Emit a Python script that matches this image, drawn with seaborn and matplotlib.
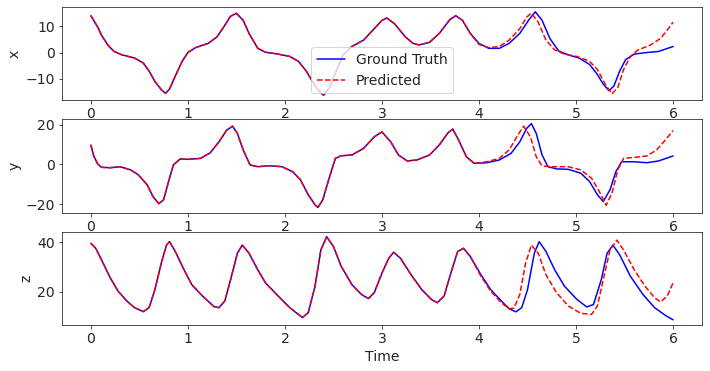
import numpy as np
import seaborn as sns
from matplotlib import pyplot as plt

# x component (ground truth)
x_true_t = [0.00, 0.07, 0.11, 0.18, 0.24, 0.32, 0.45, 0.54, 0.60, 0.66, 0.73, 0.77, 0.81,
            0.87, 0.94, 1.00, 1.08, 1.21, 1.30, 1.38, 1.44, 1.50, 1.57, 1.63, 1.72, 1.80,
            1.93, 2.05, 2.14, 2.22, 2.31, 2.37, 2.40, 2.46, 2.52, 2.60, 2.69, 2.81, 2.92,
            3.00, 3.05, 3.13, 3.24, 3.32, 3.38, 3.49, 3.59, 3.70, 3.76, 3.83, 3.91, 4.00,
            4.10, 4.21, 4.31, 4.42, 4.51, 4.58, 4.65, 4.73, 4.82, 4.92, 5.03, 5.14, 5.22,
            5.28, 5.34, 5.39, 5.45, 5.51, 5.60, 5.73, 5.85, 6.00]
x_true = [14.1, 9.75, 6.6, 2.6, 0.4, -0.9, -2.1, -4.0, -7.1, -11.1, -14.4, -15.6, -14.0,
          -9.0, -3.4, 0.0, 1.9, 3.5, 6.0, 10.4, 13.9, 15.0, 12.3, 7.3, 1.6, 0.1,
          -0.6, -1.5, -3.4, -7.1, -12.8, -15.6, -16.3, -13.4, -7.8, -0.9, 2.3, 4.75, 9.1,
          12.3, 13.2, 11.0, 6.0, 3.5, 2.9, 3.9, 7.3, 12.6, 14.1, 12.3, 7.3, 3.5,
          1.6, 1.6, 3.5, 7.3, 12.3, 15.6, 12.3, 5.4, 0.6, -0.9, -2.1, -4.6, -8.4,
          -12.1, -14.6, -12.8, -7.1, -2.75, -0.6, 0.0, 0.4, 2.3]
# x component (prediction, after it leaves the ground truth)
x_pred_tail_t = [4.00, 4.10, 4.21, 4.31, 4.42, 4.49, 4.54, 4.61, 4.69, 4.78, 4.88, 5.01,
                 5.14, 5.22, 5.30, 5.37, 5.43, 5.49, 5.56, 5.64, 5.77, 5.87, 5.93, 6.00]
x_pred_tail = [3.1, 1.9, 2.3, 4.75, 9.1, 13.5, 15.1, 11.6, 4.75, 1.0, -0.6, -1.5,
               -3.4, -6.5, -12.1, -15.8, -13.4, -6.5, -1.5, 1.0, 2.9, 5.4, 8.1, 11.6]

# y component
y_true_t = [0.00, 0.03, 0.07, 0.11, 0.20, 0.30, 0.41, 0.49, 0.58, 0.64, 0.70, 0.75, 0.80,
            0.85, 0.92, 1.00, 1.13, 1.23, 1.32, 1.40, 1.46, 1.51, 1.57, 1.64, 1.72, 1.84,
            1.97, 2.08, 2.16, 2.24, 2.31, 2.34, 2.39, 2.46, 2.52, 2.58, 2.69, 2.81, 2.92,
            3.00, 3.09, 3.17, 3.26, 3.36, 3.49, 3.59, 3.68, 3.73, 3.79, 3.87, 3.95, 4.08,
            4.21, 4.33, 4.42, 4.49, 4.54, 4.59, 4.65, 4.71, 4.80, 4.92, 5.05, 5.14, 5.22,
            5.28, 5.35, 5.41, 5.47, 5.60, 5.73, 5.85, 6.00]
y_true = [9.7, 4.2, 0.2, -1.5, -1.7, -1.2, -2.8, -5.3, -10.3, -16.2, -19.8, -17.8, -8.7,
          -0.3, 2.7, 2.5, 3.0, 5.8, 11.3, 17.2, 19.2, 15.5, 7.2, -0.3, -1.2, -0.7,
          -1.2, -3.7, -7.8, -15.3, -20.3, -21.7, -17.8, -6.2, 3.0, 4.3, 4.7, 8.0, 13.8,
          16.3, 11.3, 4.7, 1.7, 2.2, 4.7, 9.7, 15.8, 17.7, 12.2, 3.8, 0.5, 0.8,
          2.2, 5.5, 11.3, 18.0, 20.5, 15.5, 4.7, -1.2, -2.3, -2.5, -4.5, -8.7, -15.3,
          -18.7, -12.8, -3.7, 1.3, 1.3, 0.8, 1.7, 4.2]
y_pred_tail_t = [4.08, 4.21, 4.31, 4.40, 4.46, 4.53, 4.59, 4.65, 4.76, 4.92, 5.05, 5.16,
                 5.24, 5.31, 5.37, 5.43, 5.49, 5.60, 5.73, 5.83, 5.92, 6.00]
y_pred_tail = [1.3, 3.0, 7.2, 14.7, 19.2, 13.8, 3.8, -0.8, -1.2, -1.2, -2.8, -7.0,
               -13.7, -20.6, -14.5, -2.8, 3.0, 3.5, 4.2, 7.2, 12.2, 17.0]

# z component
z_true_t = [0.00, 0.05, 0.11, 0.20, 0.28, 0.37, 0.45, 0.54, 0.60, 0.66, 0.73, 0.78, 0.81,
            0.87, 0.96, 1.04, 1.15, 1.27, 1.32, 1.38, 1.44, 1.51, 1.56, 1.63, 1.72, 1.80,
            1.93, 2.05, 2.18, 2.24, 2.31, 2.37, 2.43, 2.50, 2.58, 2.69, 2.79, 2.86, 2.92,
            3.00, 3.07, 3.12, 3.19, 3.30, 3.41, 3.51, 3.57, 3.64, 3.72, 3.78, 3.84, 3.91,
            4.02, 4.12, 4.23, 4.31, 4.38, 4.44, 4.50, 4.57, 4.62, 4.69, 4.78, 4.88, 5.01,
            5.11, 5.18, 5.26, 5.32, 5.38, 5.45, 5.56, 5.69, 5.81, 5.92, 6.00]
z_true = [39.6, 37.6, 32.9, 25.6, 20.3, 16.3, 13.6, 12.0, 13.6, 20.9, 32.3, 38.9, 40.3,
          36.3, 28.9, 22.9, 18.3, 14.0, 13.6, 16.3, 24.9, 35.6, 38.9, 35.6, 28.9, 23.6,
          18.3, 13.6, 9.6, 11.6, 22.3, 36.9, 42.3, 38.3, 30.3, 22.9, 18.9, 17.3, 19.6,
          27.6, 33.6, 36.0, 33.6, 26.9, 20.9, 16.9, 15.6, 18.3, 28.9, 36.3, 37.6, 34.3,
          26.9, 20.9, 16.3, 13.2, 11.9, 13.6, 20.9, 35.6, 40.3, 36.3, 28.9, 22.3, 16.9,
          13.9, 14.9, 24.9, 35.6, 38.9, 34.9, 26.3, 18.9, 13.6, 10.5, 8.7]
z_pred_tail_t = [4.02, 4.12, 4.23, 4.31, 4.36, 4.42, 4.48, 4.54, 4.61, 4.69, 4.80, 4.92,
                 5.05, 5.16, 5.22, 5.28, 5.35, 5.42, 5.49, 5.60, 5.71, 5.81, 5.87, 5.94, 6.00]
z_pred_tail = [26.3, 20.3, 15.6, 13.2, 13.4, 18.9, 31.6, 38.9, 35.6, 26.9, 19.6, 14.3,
               11.3, 10.9, 14.3, 24.9, 36.9, 40.9, 36.9, 28.9, 22.3, 17.6, 15.9, 18.3, 23.6]

split_t = 3.96  # prediction follows ground truth up to here


def pred_series(true_t, true_v, tail_t, tail_v):
    true_t = np.array(true_t)
    keep = true_t < split_t
    t = np.concatenate([true_t[keep], tail_t])
    v = np.concatenate([np.array(true_v)[keep], tail_v])
    return t, v


sns.set_style('ticks')
plt.rcParams['font.family'] = ['DejaVu Sans']
plt.rcParams['font.size'] = 14

fig, axes = plt.subplots(3, 1, figsize=(710 / 72, 371 / 72), dpi=72)
fig.subplots_adjust(left=0.087, right=0.989, top=0.981, bottom=0.124, hspace=0.204)

panels = [('x', x_true_t, x_true, x_pred_tail_t, x_pred_tail, [-10, 0, 10], (-18.3, 17.4)),
          ('y', y_true_t, y_true, y_pred_tail_t, y_pred_tail, [-20, 0, 20], (-24.3, 22.6)),
          ('z', z_true_t, z_true, z_pred_tail_t, z_pred_tail, [20, 40], (6.6, 44.3))]

for i, (name, tt, vt, tail_t, tail_v, yt, ylim) in enumerate(panels):
    ax = axes[i]
    tp, vp = pred_series(tt, vt, tail_t, tail_v)
    lbl_true = 'Ground Truth' if i == 0 else None
    lbl_pred = 'Predicted' if i == 0 else None
    sns.lineplot(x=tt, y=vt, ax=ax, color='blue', linewidth=1.5, label=lbl_true)
    sns.lineplot(x=tp, y=vp, ax=ax, color='red', linewidth=1.5, linestyle='--', label=lbl_pred)
    ax.set_ylabel(name, fontsize=14)
    ax.set_yticks(yt)
    ax.set_xticks([0, 1, 2, 3, 4, 5, 6])
    ax.tick_params(labelsize=14)
    ax.set_xlim(-0.3, 6.3)
    ax.set_ylim(*ylim)

axes[0].legend(loc='lower center', fontsize=14)
axes[2].set_xlabel('Time', fontsize=14)

fig.savefig('out.png', dpi=72)
